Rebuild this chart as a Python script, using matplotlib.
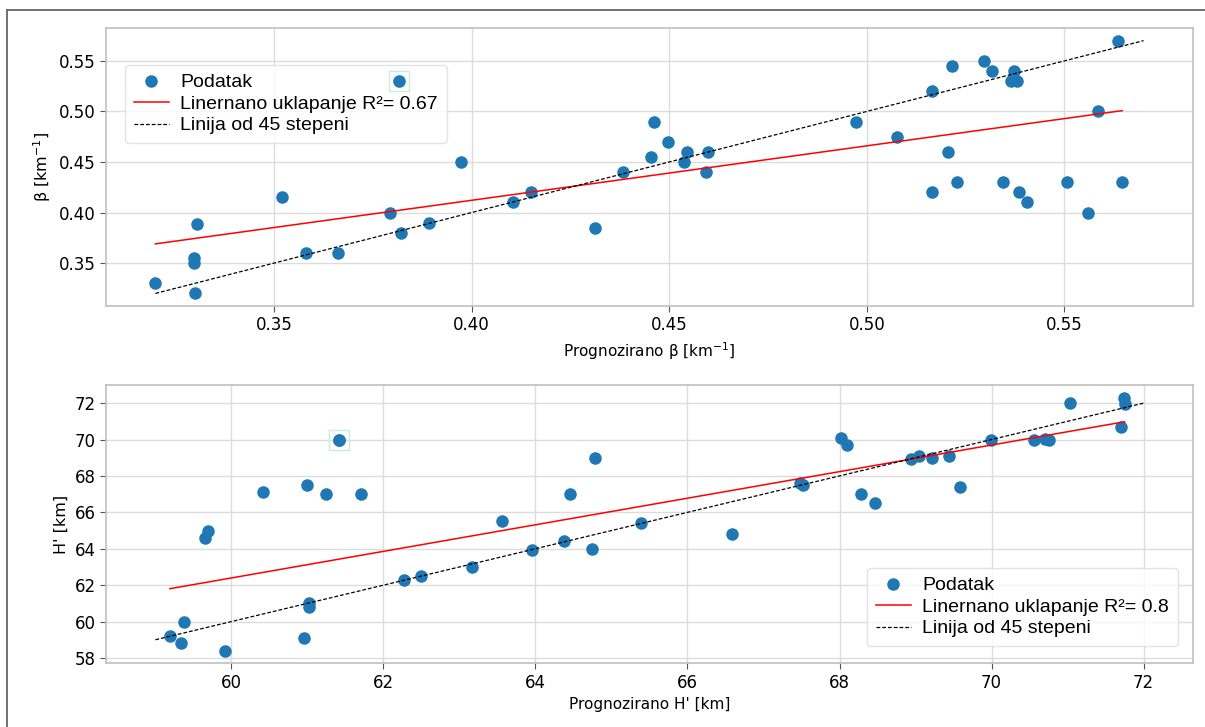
import numpy as np
import matplotlib.pyplot as plt
from matplotlib.lines import Line2D

# beta: predicted vs observed [km^-1]
beta_pred = [0.320, 0.3297, 0.3297, 0.3306, 0.3301, 0.3519, 0.3582, 0.3663, 0.3794,
             0.3822, 0.3891, 0.3973, 0.4104, 0.4150, 0.3817, 0.4312, 0.4383, 0.4462,
             0.4454, 0.4496, 0.4545, 0.4538, 0.4597, 0.4594, 0.4972, 0.5077, 0.5165,
             0.5216, 0.5296, 0.5316, 0.5373, 0.5365, 0.5380, 0.5636, 0.5584, 0.5204,
             0.5166, 0.5228, 0.5345, 0.5386, 0.5406, 0.5507, 0.5559, 0.5646]
beta_obs = [0.330, 0.355, 0.350, 0.389, 0.320, 0.415, 0.360, 0.360, 0.400,
            0.380, 0.390, 0.450, 0.410, 0.420, 0.530, 0.385, 0.440, 0.490,
            0.455, 0.470, 0.460, 0.450, 0.460, 0.440, 0.490, 0.475, 0.520,
            0.545, 0.550, 0.540, 0.540, 0.530, 0.530, 0.570, 0.500, 0.460,
            0.420, 0.430, 0.430, 0.420, 0.410, 0.430, 0.400, 0.430]
beta_r2 = 0.67
beta_mark = 14  # point drawn with a box around it

# H': predicted vs observed [km]
h_pred = [59.19, 59.34, 59.37, 59.91, 59.65, 59.69, 60.41, 60.99, 61.25, 61.71,
          61.42, 60.96, 61.02, 61.02, 62.27, 62.50, 63.16, 63.56, 63.95, 64.38,
          64.75, 64.45, 64.78, 65.39, 66.59, 67.48, 67.52, 68.02, 68.10, 68.28,
          68.47, 68.94, 69.05, 69.22, 69.44, 69.58, 69.99, 70.56, 70.70, 70.75,
          71.03, 71.74, 71.75, 71.70]
h_obs = [59.2, 58.8, 60.0, 58.4, 64.6, 65.0, 67.1, 67.5, 67.0, 67.0,
         70.0, 59.1, 61.0, 60.8, 62.3, 62.5, 63.0, 65.5, 63.95, 64.4,
         64.0, 67.0, 69.0, 65.4, 64.8, 67.6, 67.5, 70.1, 69.7, 67.0,
         66.5, 68.95, 69.1, 69.0, 69.1, 67.4, 70.0, 70.0, 70.05, 70.0,
         72.0, 72.3, 71.95, 70.7]
h_r2 = 0.8
h_mark = 10

plt.rcParams['font.family'] = 'DejaVu Sans'

fig = plt.figure(figsize=(12.05, 7.27), dpi=100)
ax1 = fig.add_axes([0.088, 0.579, 0.902, 0.3825])
ax2 = fig.add_axes([0.088, 0.0876, 0.902, 0.3828])


def panel(ax, xp, yo, r2, mark, line45, xlabel, ylabel, legend_kw):
    xp = np.array(xp)
    yo = np.array(yo)
    ax.plot(xp, yo, 'o', color='#1f77b4', markersize=8, label='Podatak')
    k, b = np.polyfit(xp, yo, 1)
    xs = np.sort(xp)
    ax.plot(xs, k * xs + b, color='red', lw=1.1,
            label='Linernano uklapanje R\u00b2= ' + str(r2))
    ax.plot(line45, line45, color='black', lw=0.9, linestyle=(0, (3, 1.6)),
            label='Linija od 45 stepeni')
    # highlighted point sits on top of everything, legend included
    ax.plot(xp[mark], yo[mark], 'o', color='#1f77b4', markersize=8, zorder=6)
    ax.plot(xp[mark], yo[mark], 's', markersize=15, mfc='none',
            mec='#c5eede', mew=1, zorder=6)
    ax.grid(True, color='#dcdcdc', lw=1)
    ax.set_axisbelow(True)
    for s in ax.spines.values():
        s.set_color('#c0c0c0')
        s.set_linewidth(1.2)
    ax.tick_params(labelsize=12, color='#555555', length=4)
    ax.set_xlabel(xlabel, fontsize=11)
    ax.set_ylabel(ylabel, fontsize=11.5)
    ax.legend(prop={'family': 'Liberation Sans', 'size': 14},
              borderaxespad=0, edgecolor='#dddddd', labelspacing=0.2,
              handlelength=1.8, handletextpad=0.6, borderpad=0.45,
              **legend_kw)


panel(ax1, beta_pred, beta_obs, beta_r2, beta_mark, [0.32, 0.57],
      r'Prognozirano $\mathrm{\beta}$ [km$^{-1}$]', r'$\mathrm{\beta}$ [km$^{-1}$]',
      dict(loc='upper left', bbox_to_anchor=(0.0175, 0.867)))
ax1.set_yticks([0.35, 0.40, 0.45, 0.50, 0.55])
ax1.set_xticks([0.35, 0.40, 0.45, 0.50, 0.55])

panel(ax2, h_pred, h_obs, h_r2, h_mark, [59, 72],
      "Prognozirano H' [km]", "H' [km]",
      dict(loc='lower right', bbox_to_anchor=(0.986, 0.062)))
ax2.set_yticks(np.arange(58, 73, 2))
ax2.set_xticks(np.arange(60, 73, 2))

# outer frame on left and top
fig.add_artist(Line2D([7 / 1205, 7 / 1205], [0, 1 - 10 / 727], color='#666666', lw=1.3))
fig.add_artist(Line2D([7 / 1205, 1], [1 - 10 / 727, 1 - 10 / 727], color='#666666', lw=1.3))

fig.savefig('out.png', dpi=100)
